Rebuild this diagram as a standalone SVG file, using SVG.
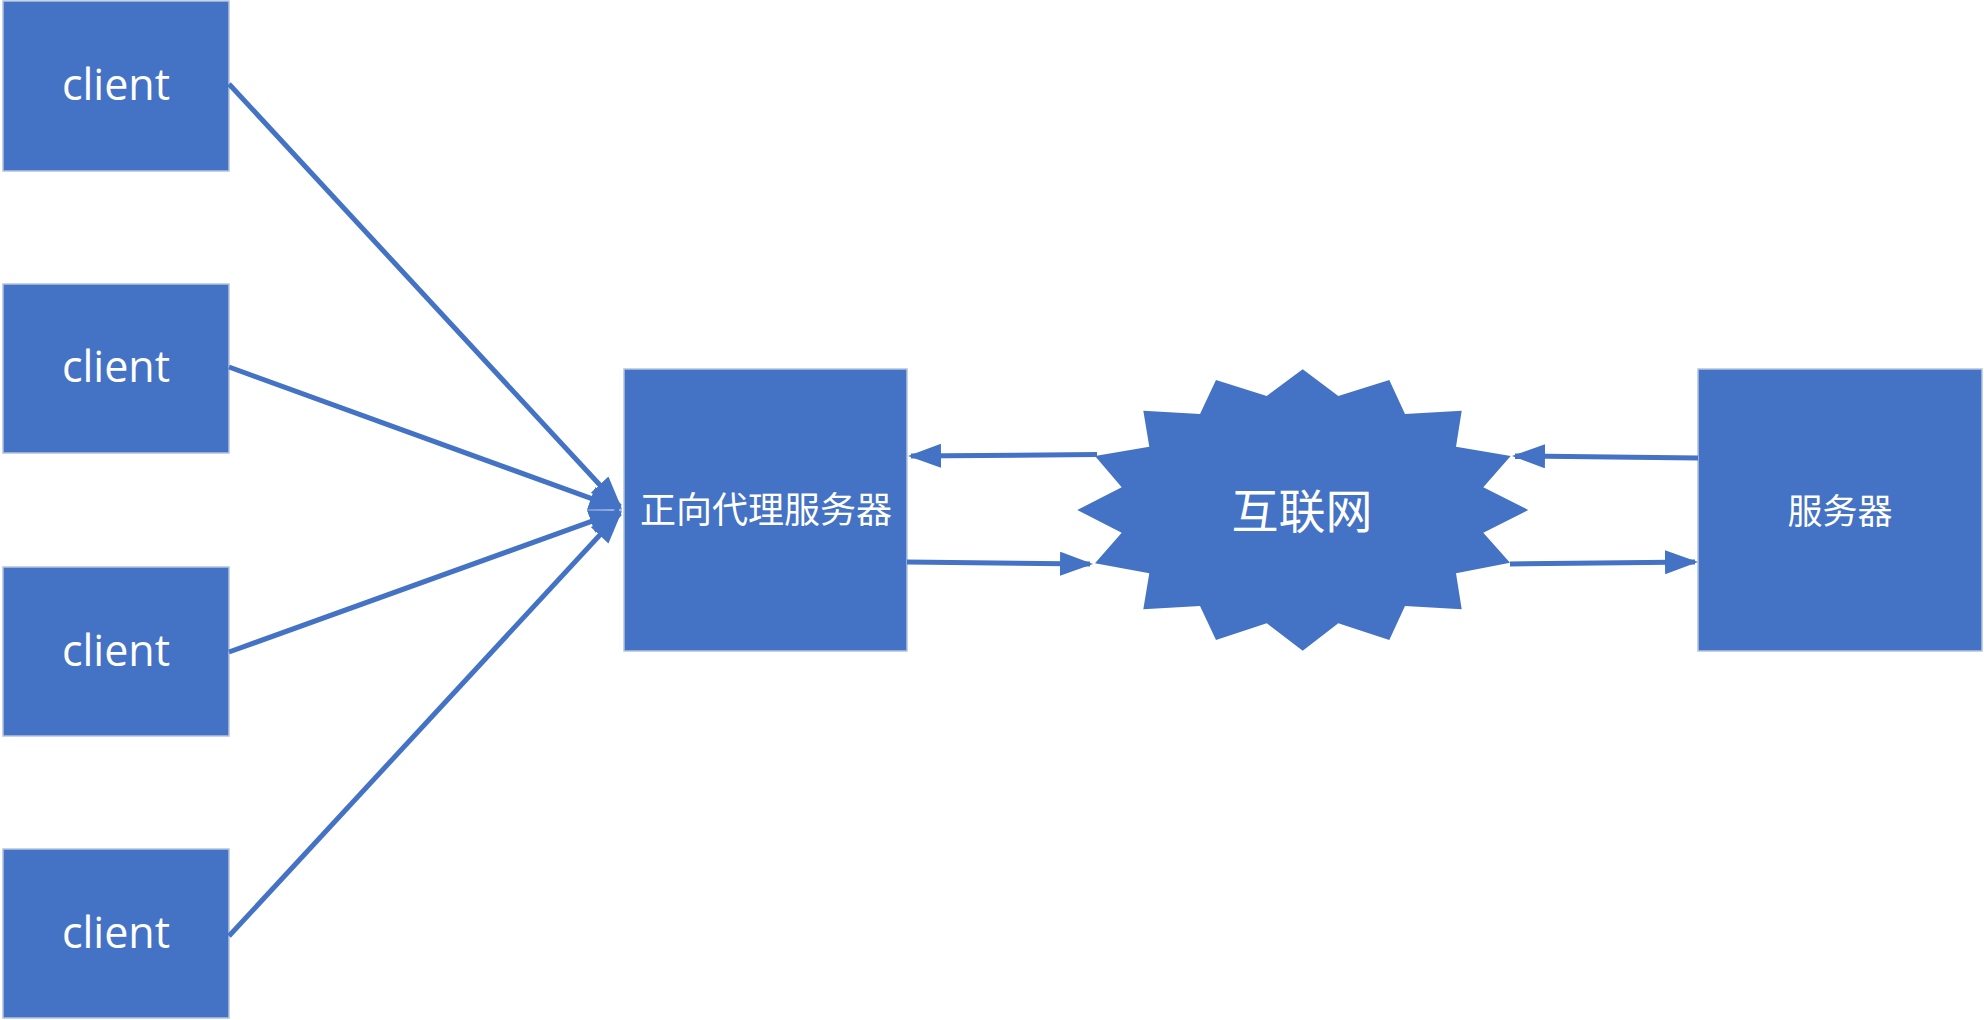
<svg xmlns="http://www.w3.org/2000/svg" width="1984" height="1020" viewBox="0 0 1984 1020">
<style>
.box{fill:#4472C4;stroke:#B4C3DE;stroke-width:1.5}
.lbl{fill:#fff;font-family:"Open Sans","Noto Sans CJK SC",sans-serif;text-anchor:middle}
.cjk{fill:#fff;font-family:"Noto Sans CJK SC",sans-serif;text-anchor:middle}
.conn{stroke:#4472C4;stroke-width:5;fill:none}
</style>
<defs>
<marker id="ah" markerUnits="userSpaceOnUse" markerWidth="36" markerHeight="26" refX="30" refY="12" orient="auto">
<path d="M0,0 L33,12 L0,24 Z" fill="#4472C4"/>
</marker>
</defs>
<rect width="1984" height="1020" fill="#fff"/>
<g id="client1"><rect class="box" x="3" y="1" width="226" height="170"/><text class="lbl" x="116" y="100" font-size="43">client</text></g>
<g id="client2"><rect class="box" x="3" y="284" width="226" height="169"/><text class="lbl" x="116" y="382" font-size="43">client</text></g>
<g id="client3"><rect class="box" x="3" y="567" width="226" height="169"/><text class="lbl" x="116" y="666" font-size="43">client</text></g>
<g id="client4"><rect class="box" x="3" y="849" width="226" height="169"/><text class="lbl" x="116" y="948" font-size="43">client</text></g>
<g id="proxy"><rect class="box" x="624" y="369" width="283" height="282"/><text class="cjk" x="766" y="523" font-size="36">正向代理服务器</text></g>
<g id="internet"><polygon fill="#4472C4" points="1302.7,369.3 1338.3,396 1389.3,380 1405,414 1461.7,410.7 1456,446.7 1510.7,456 1483.3,487.3 1528.3,510 1483.3,532.7 1510,562.7 1456,573.3 1461.7,609.3 1405,606 1389.3,640 1338.3,623.3 1302.7,650.7 1266.7,623.3 1216,640 1200,606 1143.3,609.3 1149.3,573.3 1095,563.3 1121.7,532.7 1077.3,510 1121.7,487.3 1095,456 1149.3,446.7 1143.3,410.7 1200,414 1216,380 1266.7,396"/><text class="cjk" x="1302" y="528" font-size="47">互联网</text></g>
<g id="server"><rect class="box" x="1698" y="369" width="284" height="282"/><text class="cjk" x="1840" y="524" font-size="35">服务器</text></g>
<g id="connectors">
<line class="conn" x1="229" y1="84" x2="620" y2="506.7" marker-end="url(#ah)"/>
<line class="conn" x1="229" y1="367" x2="619.2" y2="508.6" marker-end="url(#ah)"/>
<line class="conn" x1="229" y1="652" x2="619.2" y2="511.4" marker-end="url(#ah)"/>
<line class="conn" x1="229" y1="936" x2="620" y2="513.3" marker-end="url(#ah)"/>
<line class="conn" x1="1097" y1="454.5" x2="911" y2="456" marker-end="url(#ah)"/>
<line class="conn" x1="907" y1="562" x2="1090" y2="564" marker-end="url(#ah)"/>
<line class="conn" x1="1698" y1="458" x2="1515" y2="456" marker-end="url(#ah)"/>
<line class="conn" x1="1510" y1="564" x2="1695" y2="562" marker-end="url(#ah)"/>
</g>
</svg>
